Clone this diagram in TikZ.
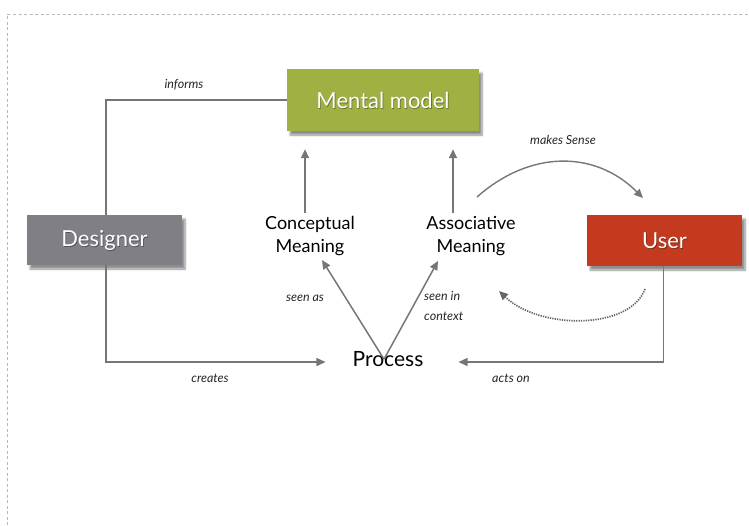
\documentclass[tikz,border=0pt]{standalone}
\usepackage{fontspec}
\setmainfont{Lato}
\usetikzlibrary{arrows.meta,shadows.blur,calc}

\definecolor{modelgreen}{HTML}{A0B043}
\definecolor{designergray}{HTML}{7F7F85}
\definecolor{userred}{HTML}{C43A1F}
\definecolor{linegray}{HTML}{767676}

\tikzset{
  boxnode/.style={rectangle, inner sep=0pt,
    blur shadow={shadow xshift=3pt, shadow yshift=-4pt, shadow blur steps=8, shadow opacity=45}},
  boxtext/.style={text=white, font=\fontsize{22}{24}\selectfont, inner sep=0pt},
  boxtextshade/.style={text=black, opacity=0.35, font=\fontsize{22}{24}\selectfont, inner sep=0pt},
  wordnode/.style={font=\fontsize{18}{23}\selectfont, align=center, inner sep=0pt},
  edgelabel/.style={font=\itshape\fontsize{12.5}{19.5}\selectfont, inner sep=0pt, text=black!85},
  link/.style={draw=linegray, line width=1.5pt},
  arrowlink/.style={link, -{Triangle[length=9pt,width=8pt]}},
  frameline/.style={draw=gray!55, line width=1pt, dash pattern=on 3pt off 2.5pt}
}

\begin{document}
\begin{tikzpicture}[x=1pt,y=-1pt]
  \useasboundingbox (0,0) rectangle (749,525);

  % dotted outer frame (top and left sides)
  \draw[frameline] (7,525) -- (7,14) -- (749,14);

  % main boxes with their embossed labels
  \node[boxnode, fill=modelgreen, minimum width=192pt, minimum height=62pt] (mm) at (383,100) {};
  \node[boxtextshade] (mmshade) at ($(mm)+(0.8pt,-1pt)$) {Mental model};
  \node[boxtext] (mmtext) at (mm) {Mental model};

  \node[boxnode, fill=designergray, minimum width=155pt, minimum height=50pt] (des) at (104.5,240) {};
  \node[boxtextshade] (desshade) at ($(des)+(0.8pt,-1pt)$) {Designer};
  \node[boxtext] (destext) at (des) {Designer};

  \node[boxnode, fill=userred, minimum width=155pt, minimum height=51pt] (usr) at (664.5,240.5) {};
  \node[boxtextshade] (usrshade) at ($(usr)+(0.8pt,-1pt)$) {User};
  \node[boxtext] (usrtext) at (usr) {User};

  % plain text nodes
  \node[wordnode] (cm) at (310,236) {Conceptual\\Meaning};
  \node[wordnode] (am) at (471,236) {Associative\\Meaning};
  \node[font=\fontsize{21}{23}\selectfont, inner sep=0pt] (proc) at (388,359) {Process};

  % designer informs the mental model
  \draw[link] ([xshift=1.5pt]des.north) |- (mm.west);
  \node[edgelabel] (lblinforms) at (184,85) {informs};

  % designer creates the process
  \draw[arrowlink, shorten >=27pt] ([xshift=1.5pt]des.south) |- ([yshift=-3pt]proc.west);
  \node[edgelabel] (lblcreates) at (210,378) {creates};

  % user acts on the process
  \draw[arrowlink, shorten >=35pt] ([xshift=-1pt]usr.south) |- ([yshift=-3pt]proc.east);
  \node[edgelabel] (lblacts) at (511,378) {acts on};

  % meanings feed the mental model
  \draw[arrowlink, shorten <=3pt, shorten >=18pt] ([xshift=-5pt]cm.north) -- ([xshift=-78pt]mm.south);
  \draw[arrowlink, shorten <=3pt, shorten >=18pt] ([xshift=-18pt]am.north) -- ([xshift=70pt]mm.south);

  % the process is seen as / seen in context
  \coordinate (vtx) at ($(proc.north)+(-4pt,-8pt)$);
  \draw[arrowlink] (vtx) -- ($(cm.south)+(12pt,-4pt)$);
  \draw[arrowlink] (vtx) -- ($(am.south)+(-33pt,-5pt)$);
  \node[edgelabel] (lblseenas) at (305,298) {seen as};
  \node[edgelabel, anchor=west, align=left] (lblseenin) at (424,306) {seen in\\context};

  % makes sense loop between associative meaning and the user
  \coordinate (msA) at (477,197);
  \coordinate (msB) at (643,198);
  \draw[arrowlink, line width=1.4pt] (msA) .. controls (530,150) and (595,150) .. (msB);
  \node[edgelabel] (lblsense) at (563,140) {makes Sense};

  \coordinate (rtA) at (645,289);
  \coordinate (rtB) at (499,291);
  \draw[draw=black!60, line width=1.7pt, dash pattern=on 1.3pt off 1.1pt,
        -{Triangle[length=9pt,width=8pt]}] (rtA) .. controls (630,330) and (540,330) .. (rtB);
\end{tikzpicture}
\end{document}
